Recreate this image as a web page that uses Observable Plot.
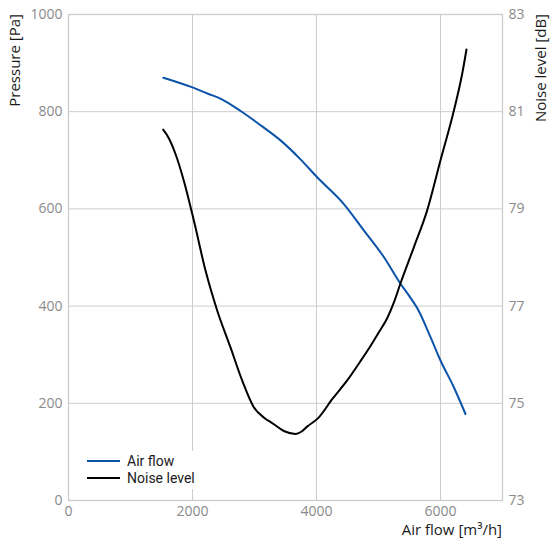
<!DOCTYPE html>
<html>
<head>
<meta charset="utf-8">
<script src="https://cdn.jsdelivr.net/npm/d3@7"></script>
<script src="https://cdn.jsdelivr.net/npm/@observablehq/plot@0.6"></script>
<style>
  html, body { margin: 0; padding: 0; background: #fff; }
  #chart { position: relative; width: 550px; height: 545px; }
</style>
</head>
<body>
<div id="chart"></div>
<script>
// Air flow curve: flow [m³/h] vs pressure [Pa]
const airFlowX = [1530, 2000, 2250, 2450, 2770, 3100, 3420, 3742, 4011, 4441, 4763, 5086, 5355, 5500, 5650, 5839, 6000, 6215, 6403];
const airFlowPa = [870, 850, 837, 827, 802, 772, 741, 702, 665, 610, 556, 501, 446, 420, 390, 336, 288, 233, 178];

// Noise level curve: flow [m³/h] vs noise [dB]
const noiseX = [1527, 1620, 1726, 1860, 2022, 2210, 2398, 2613, 2801, 2989, 3150, 3300, 3473, 3661, 3760, 3849, 4030, 4250, 4495, 4700, 4871, 5000, 5140, 5250, 5355, 5570, 5785, 6000, 6215, 6350, 6419];
const noiseDb = [80.63, 80.45, 80.13, 79.58, 78.76, 77.73, 76.91, 76.15, 75.47, 74.92, 74.71, 74.58, 74.43, 74.37, 74.42, 74.52, 74.70, 75.08, 75.47, 75.85, 76.18, 76.45, 76.75, 77.08, 77.47, 78.21, 78.97, 80.0, 81.02, 81.78, 82.28];

const xTicks = [0, 2000, 4000, 6000];
const pressureTicks = [0, 200, 400, 600, 800, 1000];
const noiseTicks = [73, 75, 77, 79, 81, 83];

const seriesNames = ["Air flow", "Noise level"];
const seriesColors = ["#0b53a8", "#000000"];

const xLabel = "Air flow [m³/h]";
const yLeftLabel = "Pressure [Pa]";
const yRightLabel = "Noise level [dB]";

// Map dB onto the pressure scale (73..83 dB <-> 0..1000 Pa)
const dbMin = 73, dbMax = 83, paMax = 1000;
const dbToPa = d => (d - dbMin) / (dbMax - dbMin) * paMax;
const paToDb = p => dbMin + p / paMax * (dbMax - dbMin);

const airData = airFlowX.map((x, i) => ({x, y: airFlowPa[i]}));
const noiseData = noiseX.map((x, i) => ({x, y: dbToPa(noiseDb[i])}));

const font = "'Open Sans', 'Noto Sans', sans-serif";
const legendFont = "Roboto, 'Open Sans', sans-serif";

const plot = Plot.plot({
  width: 550,
  height: 545,
  marginLeft: 68,
  marginRight: 48,
  marginTop: 14,
  marginBottom: 45,
  style: {fontFamily: font, fontSize: "14px", background: "#fff"},
  x: {domain: [0, 7000], ticks: xTicks},
  y: {domain: [0, paMax], ticks: pressureTicks},
  marks: [
    Plot.gridX(xTicks.filter(d => d > 0), {stroke: "#cccccc", strokeOpacity: 1, strokeWidth: 1}),
    Plot.gridY(pressureTicks.filter(d => d > 0 && d < paMax), {stroke: "#cccccc", strokeOpacity: 1, strokeWidth: 1}),
    Plot.frame({stroke: "#cccccc", strokeWidth: 1.3}),
    Plot.axisX({ticks: xTicks, tickSize: 0, tickPadding: 6, label: null, fill: "#8a8a8a", fontSize: 14, tickFormat: d => String(d)}),
    Plot.axisY({ticks: pressureTicks, tickSize: 0, tickPadding: 6, label: null, fill: "#8a8a8a", fontSize: 14, tickFormat: d => String(d)}),
    Plot.axisY({anchor: "right", ticks: noiseTicks.map(dbToPa), tickSize: 0, tickPadding: 6, label: null, fill: "#8a8a8a", fontSize: 14, tickFormat: p => String(Math.round(paToDb(p)))}),
    Plot.line(airData, {x: "x", y: "y", stroke: seriesColors[0], strokeWidth: 2, curve: "monotone-x"}),
    Plot.line(noiseData, {x: "x", y: "y", stroke: seriesColors[1], strokeWidth: 2, curve: "monotone-x"})
  ]
});

document.getElementById("chart").appendChild(plot);

// Axis titles and legend added to the same SVG
const svg = d3.select(plot);
const txtColor = "#1a1a1a";

svg.append("text")
  .attr("transform", "translate(15,14) rotate(-90)")
  .attr("text-anchor", "end").attr("dy", "0.35em")
  .attr("font-family", font).attr("font-size", 15).attr("fill", txtColor)
  .text(yLeftLabel);

svg.append("text")
  .attr("transform", "translate(541,14) rotate(-90)")
  .attr("text-anchor", "end").attr("dy", "0.35em")
  .attr("font-family", font).attr("font-size", 15).attr("fill", txtColor)
  .text(yRightLabel);

svg.append("text")
  .attr("x", 502).attr("y", 530).attr("dy", "0.35em")
  .attr("text-anchor", "end")
  .attr("font-family", font).attr("font-size", 15).attr("fill", txtColor)
  .text(xLabel);

const legend = svg.append("g");
legend.append("rect").attr("x", 84).attr("y", 451).attr("width", 130).attr("height", 38).attr("fill", "#fff");
seriesNames.forEach((name, i) => {
  const yy = 461 + i * 17;
  legend.append("line").attr("x1", 87).attr("x2", 120).attr("y1", yy).attr("y2", yy)
    .attr("stroke", seriesColors[i]).attr("stroke-width", 2);
  legend.append("text").attr("x", 127).attr("y", yy).attr("dy", "0.35em")
    .attr("text-anchor", "start")
    .attr("font-family", legendFont).attr("font-size", 14).attr("fill", txtColor)
    .text(name);
});
</script>
</body>
</html>
